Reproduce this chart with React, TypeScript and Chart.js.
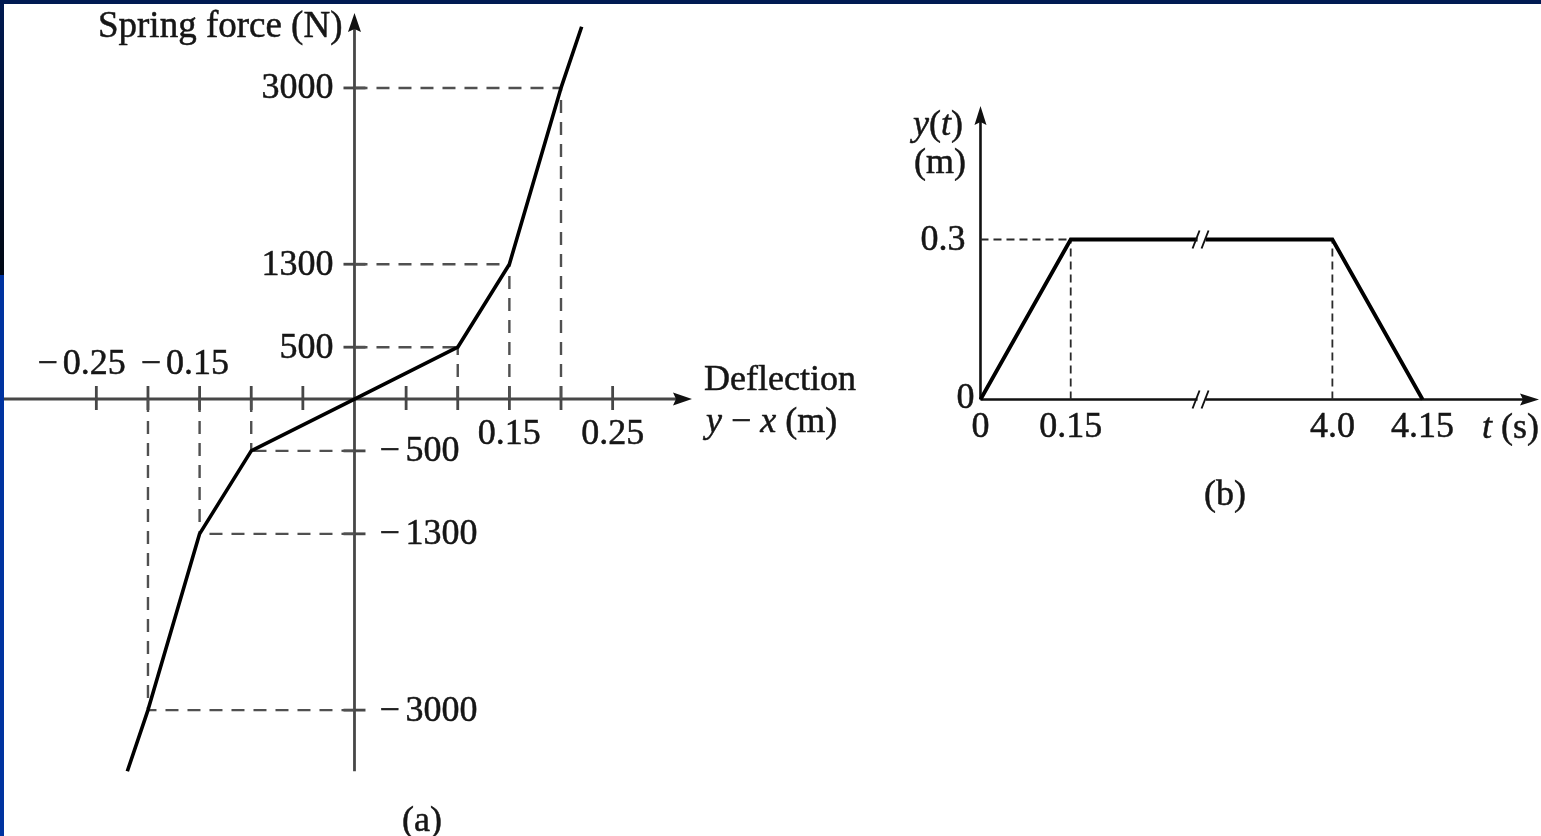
import React, { useEffect, useRef } from "react";
import { Chart, registerables } from "chart.js";

Chart.register(...registerables);

// ---------------- DATA: panel (a) spring force vs deflection ----------------
const deflection = [-0.22, -0.2, -0.15, -0.1, 0, 0.1, 0.15, 0.2, 0.22];
const springForce = [-3590, -3000, -1300, -500, 0, 500, 1300, 3000, 3590];
const guideDeflection = [-0.2, -0.15, -0.1, 0.1, 0.15, 0.2];
const guideForce = [-3000, -1300, -500, 500, 1300, 3000];
const xTicksA = [-0.25, -0.2, -0.15, -0.1, -0.05, 0.05, 0.1, 0.15, 0.2, 0.25];
const xLabelsNegA = ["0.25", "0.15"];
const xLabelsNegAValues = [-0.25, -0.15];
const xLabelsPosA = ["0.15", "0.25"];
const xLabelsPosAValues = [0.15, 0.25];
const yLabelsPosA = [3000, 1300, 500];
const yLabelsNegA = [-500, -1300, -3000];

// ---------------- DATA: panel (b) displacement vs time ----------------
const timeS = [0, 0.15, 4.0, 4.15];
const dispM = [0, 0.3, 0.3, 0];
const xLabelsB = ["0", "0.15", "4.0", "4.15"];
const yLabelsB = ["0.3"];
const yLabelsBValues = [0.3];

// axis break on panel (b): times beyond the break are shifted left
const BREAK_AT = 2;
const BREAK_SHIFT = 3.415;
const compress = (t: number) => (t > BREAK_AT ? t - BREAK_SHIFT : t);

const SERIF = '"Liberation Serif", "DejaVu Serif", "Times New Roman", serif';
const TEXT = "#161616";

type Part = [string, boolean];

function font(ctx: CanvasRenderingContext2D, italic = false, size = 36) {
  ctx.font = `${italic ? "italic " : ""}${size}px ${SERIF}`;
}

function paint(ctx: CanvasRenderingContext2D, s: string, x: number, y: number) {
  ctx.fillText(s, x, y);
  ctx.save();
  ctx.strokeStyle = TEXT;
  ctx.lineWidth = 0.5;
  ctx.strokeText(s, x, y);
  ctx.restore();
}

function text(
  ctx: CanvasRenderingContext2D,
  s: string,
  x: number,
  y: number,
  align: CanvasTextAlign,
  italic = false
) {
  font(ctx, italic);
  ctx.fillStyle = TEXT;
  ctx.textAlign = align;
  ctx.textBaseline = "middle";
  paint(ctx, s, x, y);
}

function rich(ctx: CanvasRenderingContext2D, parts: Part[], x: number, y: number) {
  let cx = x;
  ctx.textAlign = "left";
  ctx.textBaseline = "middle";
  ctx.fillStyle = TEXT;
  for (const [s, it] of parts) {
    font(ctx, it);
    paint(ctx, s, cx, y);
    cx += ctx.measureText(s).width;
  }
}

function arrow(
  ctx: CanvasRenderingContext2D,
  tx: number,
  ty: number,
  dir: "up" | "right",
  len: number,
  hw: number,
  color: string
) {
  ctx.save();
  ctx.fillStyle = color;
  ctx.beginPath();
  if (dir === "up") {
    ctx.moveTo(tx, ty);
    ctx.lineTo(tx - hw, ty + len);
    ctx.lineTo(tx, ty + len - 3);
    ctx.lineTo(tx + hw, ty + len);
  } else {
    ctx.moveTo(tx, ty);
    ctx.lineTo(tx - len, ty - hw);
    ctx.lineTo(tx - len + 3, ty);
    ctx.lineTo(tx - len, ty + hw);
  }
  ctx.closePath();
  ctx.fill();
  ctx.restore();
}

function line(
  ctx: CanvasRenderingContext2D,
  x1: number,
  y1: number,
  x2: number,
  y2: number,
  color: string,
  w: number
) {
  ctx.save();
  ctx.strokeStyle = color;
  ctx.lineWidth = w;
  ctx.beginPath();
  ctx.moveTo(x1, y1);
  ctx.lineTo(x2, y2);
  ctx.stroke();
  ctx.restore();
}

const AXIS_A = "#474747";
const DASH_A = "#505050";

const panelAPlugin = {
  id: "panelA",
  beforeDatasetsDraw(chart: any) {
    const ctx = chart.ctx as CanvasRenderingContext2D;
    const xs = chart.scales.x;
    const ys = chart.scales.y;
    const x0 = xs.getPixelForValue(0);
    const y0 = ys.getPixelForValue(0);
    // x axis
    line(ctx, 0, y0, 680, y0, AXIS_A, 2.8);
    arrow(ctx, 692, y0, "right", 19, 6.5, "#111");
    // y axis
    const yBottom = ys.getPixelForValue(Math.min(...springForce));
    line(ctx, x0, yBottom, x0, 26, AXIS_A, 2.8);
    arrow(ctx, x0, 13, "up", 19, 6.5, "#111");
    // x ticks
    for (const v of xTicksA) {
      const px = xs.getPixelForValue(v);
      line(ctx, px, y0 - 13, px, y0 + 11, AXIS_A, 2.8);
    }
    // y ticks
    for (const v of [...yLabelsPosA, ...yLabelsNegA]) {
      const py = ys.getPixelForValue(v);
      line(ctx, x0 - 11, py, x0 + 11, py, AXIS_A, 2.8);
    }
  },
  afterDatasetsDraw(chart: any) {
    const ctx = chart.ctx as CanvasRenderingContext2D;
    const xs = chart.scales.x;
    const ys = chart.scales.y;
    const x0 = xs.getPixelForValue(0);
    const y0 = ys.getPixelForValue(0);
    // axis title
    ctx.font = `37px ${SERIF}`;
    ctx.fillStyle = TEXT;
    ctx.textAlign = "right";
    ctx.textBaseline = "alphabetic";
    paint(ctx, "Spring force (N)", x0 - 12, 37);
    // y labels
    for (const v of yLabelsPosA) {
      text(ctx, String(v), x0 - 21, ys.getPixelForValue(v) + 1, "right");
    }
    for (const v of yLabelsNegA) {
      const py = ys.getPixelForValue(v) + 1;
      text(ctx, "\u2212", x0 + 25, py, "left");
      text(ctx, String(Math.abs(v)), x0 + 51, py, "left");
    }
    // x labels
    xLabelsNegA.forEach((s, i) => {
      const px = xs.getPixelForValue(xLabelsNegAValues[i]);
      text(ctx, s, px - 2, y0 - 34, "center");
      font(ctx);
      const w = ctx.measureText(s).width;
      text(ctx, "\u2212", px - 2 - w / 2 - 5, y0 - 34, "right");
    });
    xLabelsPosA.forEach((s, i) => {
      const px = xs.getPixelForValue(xLabelsPosAValues[i]);
      text(ctx, s, px, y0 + 36, "center");
    });
    // x axis title
    text(ctx, "Deflection", 704, y0 - 18, "left");
    rich(
      ctx,
      [
        ["y", true],
        [" \u2212 ", false],
        ["x", true],
        [" (m)", false],
      ],
      706,
      y0 + 24
    );
    // panel tag
    text(ctx, "(a)", 422, 822, "center");
  },
};

const AXIS_B = "#111111";

const panelBPlugin = {
  id: "panelB",
  beforeDatasetsDraw(chart: any) {
    const ctx = chart.ctx as CanvasRenderingContext2D;
    const xs = chart.scales.x;
    const ys = chart.scales.y;
    const x0 = xs.getPixelForValue(0);
    const y0 = ys.getPixelForValue(0);
    line(ctx, x0, y0, 624, y0, AXIS_B, 2.6);
    arrow(ctx, 639, y0, "right", 19, 6, AXIS_B);
    line(ctx, x0, y0, x0, 120, AXIS_B, 2.6);
    arrow(ctx, x0, 106, "up", 19, 6, AXIS_B);
  },
  afterDatasetsDraw(chart: any) {
    const ctx = chart.ctx as CanvasRenderingContext2D;
    const xs = chart.scales.x;
    const ys = chart.scales.y;
    const x0 = xs.getPixelForValue(0);
    const y0 = ys.getPixelForValue(0);
    // axis breaks
    const bx = xs.getPixelForValue((compress(timeS[1]) + compress(timeS[2])) / 2);
    for (const yy of [y0, ys.getPixelForValue(dispM[1])]) {
      ctx.save();
      ctx.fillStyle = "#fff";
      ctx.fillRect(bx - 4, yy - 3, 8, 6);
      ctx.restore();
      line(ctx, bx - 9, yy + 9, bx - 2, yy - 9, "#111", 1.9);
      line(ctx, bx, yy + 9, bx + 7, yy - 9, "#111", 1.9);
    }
    // y labels
    yLabelsB.forEach((s, i) => {
      text(ctx, s, x0 - 15, ys.getPixelForValue(yLabelsBValues[i]) + 1, "right");
    });
    text(ctx, "0", x0 - 6, y0 - 1, "right");
    // x labels
    xLabelsB.forEach((s, i) => {
      text(ctx, s, xs.getPixelForValue(compress(timeS[i])), y0 + 28, "center");
    });
    rich(
      ctx,
      [
        ["t", true],
        [" (s)", false],
      ],
      582,
      y0 + 29
    );
    rich(
      ctx,
      [
        ["y", true],
        ["(", false],
        ["t", true],
        [")", false],
      ],
      13,
      126
    );
    text(ctx, "(m)", 14, 164, "left");
    text(ctx, "(b)", 325, 496, "center");
  },
};

function baseOptions(xmin: number, xmax: number, ymin: number, ymax: number) {
  return {
    responsive: false,
    maintainAspectRatio: false,
    animation: false as const,
    events: [] as any[],
    layout: { padding: 0 },
    plugins: { legend: { display: false }, tooltip: { enabled: false } },
    scales: {
      x: { type: "linear" as const, min: xmin, max: xmax, display: false },
      y: { type: "linear" as const, min: ymin, max: ymax, display: false },
    },
  };
}

export default function App() {
  const refA = useRef<HTMLCanvasElement>(null);
  const refB = useRef<HTMLCanvasElement>(null);

  useEffect(() => {
    const guidesA: any[] = [];
    guideDeflection.forEach((gx, i) => {
      const gy = guideForce[i];
      guidesA.push({
        data: [
          { x: gx, y: 0 },
          { x: gx, y: gy },
        ],
      });
      guidesA.push({
        data: [
          { x: 0, y: gy },
          { x: gx, y: gy },
        ],
      });
    });
    const chartA = new Chart(refA.current as HTMLCanvasElement, {
      type: "line",
      data: {
        datasets: [
          {
            data: deflection.map((x, i) => ({ x, y: springForce[i] })),
            borderColor: "#000",
            borderWidth: 3.6,
            pointRadius: 0,
            tension: 0,
            order: 0,
            borderJoinStyle: "round",
          } as any,
          ...guidesA.map((g) => ({
            ...g,
            borderColor: DASH_A,
            borderWidth: 2.4,
            borderDash: [13, 9],
            pointRadius: 0,
            order: 1,
          })),
        ],
      },
      options: baseOptions(-0.3433, 0.5283, -4214, 3848) as any,
      plugins: [panelAPlugin],
    });

    const guidesB: any[] = [
      {
        data: [
          { x: compress(timeS[1]), y: 0 },
          { x: compress(timeS[1]), y: dispM[1] },
        ],
      },
      {
        data: [
          { x: 0, y: dispM[1] },
          { x: compress(timeS[1]), y: dispM[1] },
        ],
      },
      {
        data: [
          { x: compress(timeS[2]), y: 0 },
          { x: compress(timeS[2]), y: dispM[2] },
        ],
      },
    ];
    const chartB = new Chart(refB.current as HTMLCanvasElement, {
      type: "line",
      data: {
        datasets: [
          {
            data: timeS.map((t, i) => ({ x: compress(t), y: dispM[i] })),
            borderColor: "#000",
            borderWidth: 3.8,
            pointRadius: 0,
            tension: 0,
            order: 0,
            borderJoinStyle: "miter",
          } as any,
          ...guidesB.map((g) => ({
            ...g,
            borderColor: "#2a2a2a",
            borderWidth: 1.8,
            borderDash: [8, 5],
            pointRadius: 0,
            order: 1,
          })),
        ],
      },
      options: baseOptions(-0.1338, 0.9318, -0.8185, 0.7491) as any,
      plugins: [panelBPlugin],
    });

    return () => {
      chartA.destroy();
      chartB.destroy();
    };
  }, []);

  return (
    <div
      style={{
        position: "fixed",
        left: 0,
        top: 0,
        width: 1541,
        height: 836,
        background: "#ffffff",
        overflow: "hidden",
      }}
    >
      <canvas
        ref={refA}
        width={900}
        height={836}
        style={{ position: "absolute", left: 0, top: 0, width: 900, height: 836 }}
      />
      <canvas
        ref={refB}
        width={641}
        height={836}
        style={{ position: "absolute", left: 900, top: 0, width: 641, height: 836 }}
      />
      <div
        style={{
          position: "absolute",
          left: 0,
          top: 0,
          width: 1541,
          height: 4,
          background: "#001a52",
        }}
      />
      <div
        style={{
          position: "absolute",
          left: 0,
          top: 0,
          width: 4,
          height: 275,
          background: "linear-gradient(#001a52, #000814)",
        }}
      />
      <div
        style={{
          position: "absolute",
          left: 0,
          top: 275,
          width: 4,
          height: 561,
          background: "#0033a0",
        }}
      />
    </div>
  );
}
